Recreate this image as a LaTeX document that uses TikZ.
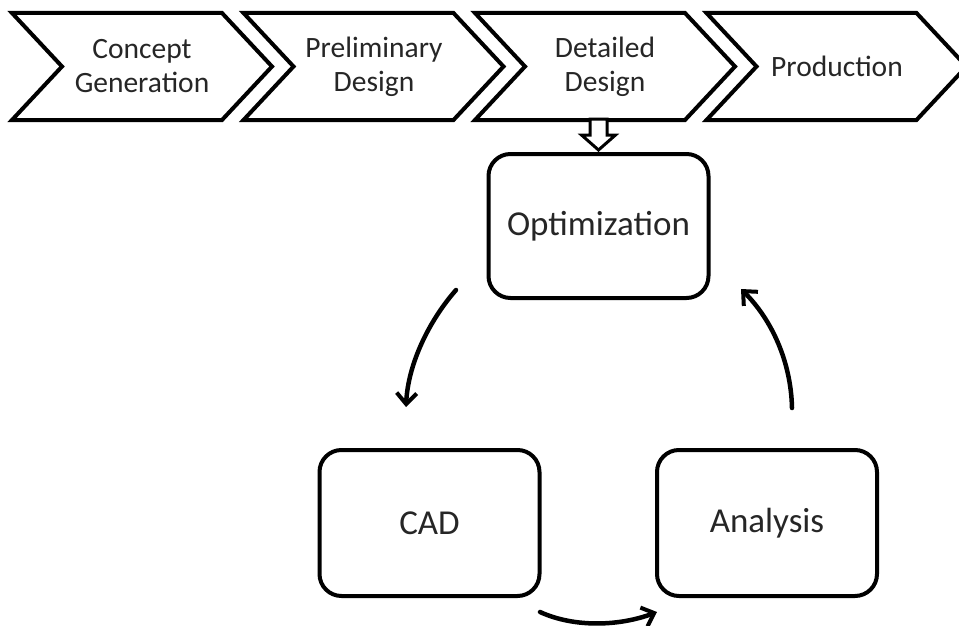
\documentclass[tikz,border=0pt]{standalone}
\usepackage{fontspec}
\setmainfont{Carlito}
\usetikzlibrary{arrows.meta,calc}
\begin{document}
\begin{tikzpicture}[x=1pt,y=-1pt,
  chevron/.style={draw=black,line width=4pt,line join=miter,fill=white},
  stagetext/.style={font=\fontsize{29.5}{34}\selectfont,align=center,text=black!85,inner sep=0pt},
  block/.style={draw=black,line width=4pt,rounded corners=22pt,minimum width=220pt,
    minimum height=146pt,font=\fontsize{35}{40}\selectfont,text=black!85,inner sep=0pt},
  cyclearrow/.style={line width=4.5pt,line cap=round,
    -{Straight Barb[length=11pt,width=20pt,line width=4pt]}},
  feed/.style={draw=black,line width=3pt,fill=white,line join=miter}]
\useasboundingbox (0,0) rectangle (959,626);

% process stages
\draw[chevron] (12,13) -- ++(210,0) -- ++(50,53.5) -- ++(-50,53.5) -- ++(-210,0) -- ++(50,-53.5) -- cycle;
\node[stagetext] (concept) at (142,66.5) {Concept\\Generation};
\draw[chevron] (243.5,13) -- ++(210,0) -- ++(50,53.5) -- ++(-50,53.5) -- ++(-210,0) -- ++(50,-53.5) -- cycle;
\node[stagetext] (prelim) at (374,66.5) {Preliminary\\Design};
\draw[chevron] (475,13) -- ++(210,0) -- ++(50,53.5) -- ++(-50,53.5) -- ++(-210,0) -- ++(50,-53.5) -- cycle;
\node[stagetext] (detail) at (605,66.5) {Detailed\\Design};
\draw[chevron] (706.5,13) -- ++(210,0) -- ++(50,53.5) -- ++(-50,53.5) -- ++(-210,0) -- ++(50,-53.5) -- cycle;
\node[stagetext] (prod) at (837,66.5) {Production};

% design loop
\node[block,minimum height=144pt] (opt) at (598.5,226) {Optimization};
\node[block] (cad) at (429.5,523) {CAD};
\node[block] (ana) at (767,523) {Analysis};

% hollow arrow from the detailed design stage
\draw[feed] ($(opt.north)+(-8.5,-33)$) -- ($(opt.north)+(8.5,-33)$) -- ($(opt.north)+(8.5,-17)$)
  -- ($(opt.north)+(17,-17)$) -- ($(opt.north)+(0,-2)$) -- ($(opt.north)+(-17,-17)$)
  -- ($(opt.north)+(-8.5,-17)$) -- cycle;

% loop arrows
\coordinate (l1) at (456,290);
\coordinate (l2) at (406,407);
\coordinate (b1) at (540,612);
\coordinate (b2) at (657,612);
\coordinate (r1) at (792,408);
\coordinate (r2) at (741,289);
\draw[cyclearrow] (l1) .. controls (428,322) and (408,365) .. (l2);
\draw[cyclearrow] (b1) .. controls (575,628) and (620,626) .. (b2);
\draw[cyclearrow] (r1) .. controls (791,362) and (772,320) .. (r2);
\end{tikzpicture}
\end{document}
